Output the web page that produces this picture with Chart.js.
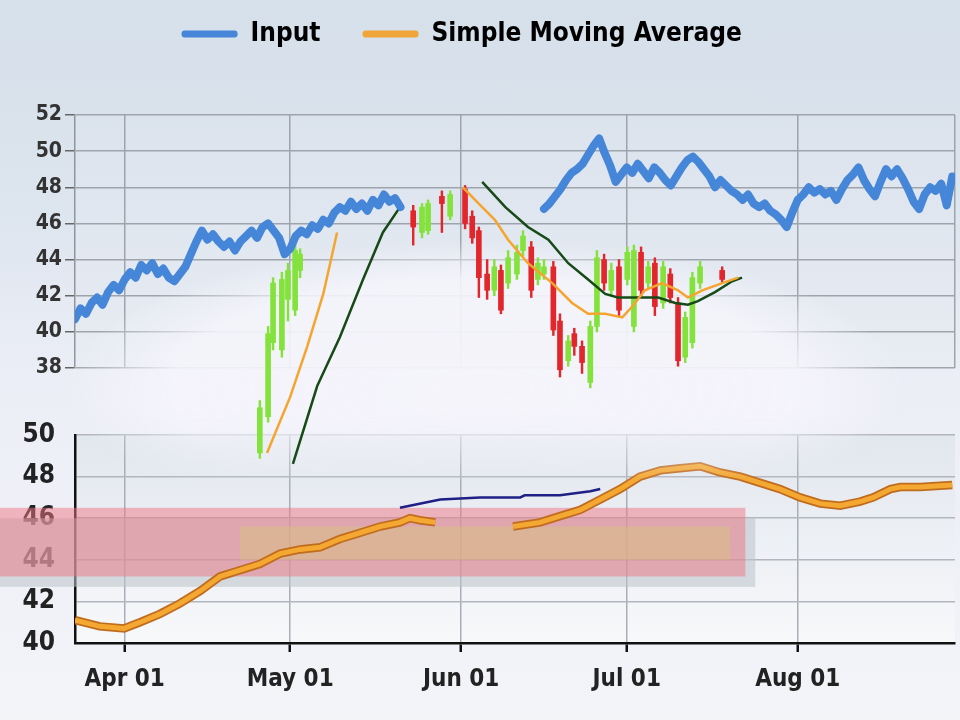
<!DOCTYPE html>
<html>
<head>
<meta charset="utf-8">
<script src="https://cdn.jsdelivr.net/npm/chart.js@4.4.1/dist/chart.umd.min.js"></script>
<style>
html, body { margin: 0; padding: 0; }
body {
    width: 960px; height: 720px; overflow: hidden; position: relative;
    background: linear-gradient(180deg, #d6e0ea 0%, #dde5ee 30%, #eceef7 52%, #eff0f7 72%, #f3f4f8 100%);
}
canvas { position: absolute; left: 0; top: 0; }
</style>
</head>
<body>
<canvas id="lower" width="960" height="720"></canvas>
<canvas id="upper" width="960" height="720"></canvas>
<script>
// x axis is day of year
const monthTicks = [91, 121, 152, 182, 213];
const monthLabels = ['Apr 01', 'May 01', 'Jun 01', 'Jul 01', 'Aug 01'];

// input series, one value per day, two runs
const inputStartA = 82;
const inputA = [
    40.7, 41.3, 41.0, 41.6, 41.9, 41.5, 42.2, 42.6, 42.3, 42.9,
    43.3, 43.0, 43.7, 43.4, 43.8, 43.2, 43.5, 43.0, 42.8, 43.2,
    43.6, 44.3, 45.0, 45.6, 45.1, 45.4, 45.0, 44.7, 45.0, 44.5,
    45.0, 45.3, 45.6, 45.2, 45.8, 46.0, 45.6, 45.2, 44.3, 44.6,
    45.3, 45.6, 45.4, 45.9, 45.7, 46.2, 46.0, 46.6, 46.9, 46.7,
    47.2, 46.8, 47.1, 46.7, 47.3, 47.0, 47.6, 47.2, 47.4, 46.9
];
const inputStartB = 167;
const inputB = [
    46.8, 47.1, 47.5, 47.9, 48.4, 48.8, 49.0, 49.3, 49.8, 50.3,
    50.7, 49.9, 49.2, 48.3, 48.7, 49.1, 48.8, 49.3, 48.9, 48.5,
    49.1, 48.8, 48.4, 48.1, 48.6, 49.1, 49.5, 49.7, 49.4, 49.0,
    48.6, 48.0, 48.4, 48.1, 47.8, 47.6, 47.3, 47.6, 47.1, 46.9,
    47.1, 46.7, 46.5, 46.2, 45.8, 46.6, 47.3, 47.6, 48.0, 47.7,
    47.9, 47.6, 47.8, 47.3, 47.9, 48.4, 48.7, 49.1, 48.4, 47.9,
    47.5, 48.3, 49.0, 48.6, 49.0, 48.5, 47.9, 47.2, 46.8, 47.6,
    48.0, 47.8, 48.2, 47.0, 48.6
];

// candles
const candleDays  = [115.5,117.0,117.9,119.5,120.6,121.9,122.8,143.3,144.9,146.0,148.5,150.0,152.7,154.0,155.2,156.7,158.0,159.2,160.5,162.1,163.2,164.7,165.9,167.0,168.7,169.9,171.4,172.5,173.9,175.4,176.6,177.9,179.2,180.6,182.1,183.3,184.6,185.9,187.1,188.6,189.9,191.3,192.6,193.9,195.3,199.3];
const candleOpen  = [33.3,35.3,39.4,39.0,41.8,41.2,43.4,46.7,45.5,45.6,47.5,46.4,47.9,46.4,45.6,43.2,42.3,43.4,42.7,43.2,44.5,44.7,42.9,43.2,43.6,40.6,38.4,39.9,39.2,37.2,40.3,44.0,42.3,43.6,42.9,40.3,44.4,42.7,43.8,41.6,43.2,41.6,38.6,39.4,42.7,43.4];
const candleClose = [35.8,39.9,42.7,42.9,43.4,44.5,44.3,45.8,46.9,47.1,47.1,47.6,46.0,45.2,43.0,42.3,43.6,41.2,44.1,44.4,45.3,42.3,43.8,43.6,40.1,37.9,39.5,39.2,38.3,40.3,44.1,42.7,43.4,41.2,44.4,44.5,42.3,43.6,41.4,43.6,41.9,38.4,40.8,43.0,43.6,42.9];
const candleHigh  = [36.2,40.3,43.0,43.3,43.8,44.9,44.6,47.0,47.1,47.3,47.8,47.8,48.1,46.7,45.8,44.0,44.0,43.7,44.5,44.8,45.6,45.0,44.1,44.0,43.9,41.0,39.8,40.2,39.5,40.6,44.5,44.3,43.8,44.0,44.7,44.8,44.7,43.9,44.1,43.9,43.5,41.9,41.1,43.3,43.9,43.6];
const candleLow   = [33.0,35.0,39.0,38.6,40.6,40.9,43.0,44.8,45.2,45.4,45.5,46.2,45.7,44.9,41.9,41.8,42.0,41.0,42.4,42.9,44.2,41.9,42.6,42.9,39.8,37.5,38.1,38.7,37.7,36.9,40.0,42.3,42.0,40.9,42.6,40.0,42.0,42.4,40.9,41.3,41.6,38.1,38.3,39.1,42.4,42.7];

// moving averages on the upper panel
const smaDays   = [116.8, 121.0, 124.1, 127.0, 129.5, 140, 152.3, 155.8, 158.1, 160.5, 164.1, 168.5, 172.1, 175.0, 178.1, 181.2, 183.0, 185.3, 188.4, 191.3, 193.1, 195.7, 199.3, 202.2];
const smaValues = [33.3, 36.4, 39.2, 42.1, 45.5, null, 48.0, 46.9, 46.2, 45.1, 43.8, 42.7, 41.6, 41.0, 41.0, 40.8, 41.4, 42.3, 42.7, 42.3, 41.9, 42.3, 42.7, 43.0];
const slowDays   = [121.5, 125.9, 130.0, 134.2, 137.8, 140.9, 148, 155.8, 160.0, 164.1, 167.8, 171.4, 175.0, 178.1, 180.4, 184.1, 187.7, 190.8, 193.1, 194.9, 198.0, 201.1, 202.9];
const slowValues = [32.7, 37.0, 39.7, 42.9, 45.5, 46.9, null, 48.3, 46.9, 45.8, 45.1, 43.8, 42.9, 42.1, 41.9, 41.9, 41.9, 41.6, 41.5, 41.7, 42.2, 42.8, 43.0];

// lower panel
const lowerDays   = [82, 86.5, 90.9, 93.8, 97.4, 101.0, 104.7, 108.3, 111.9, 115.5, 119.2, 122.8, 126.4, 130.0, 133.7, 137.3, 140.9, 142.7, 144.5, 147.3, 154, 161.4, 166.3, 169.9, 173.6, 177.2, 180.8, 184.4, 188.1, 191.7, 195.3, 198.9, 202.6, 206.2, 209.8, 213.4, 217.1, 220.7, 224.3, 226.7, 229.8, 231.6, 235.2, 241.0];
const lowerValues = [41.1, 40.8, 40.7, 41.0, 41.4, 41.9, 42.5, 43.2, 43.5, 43.8, 44.3, 44.5, 44.6, 45.0, 45.3, 45.6, 45.8, 46.0, 45.9, 45.8, null, 45.6, 45.8, 46.1, 46.4, 46.9, 47.4, 48.0, 48.3, 48.4, 48.5, 48.2, 48.0, 47.7, 47.4, 47.0, 46.7, 46.6, 46.8, 47.0, 47.4, 47.5, 47.5, 47.6];
const navyDays   = [140.9, 148.2, 155.4, 162.7, 163.5, 169.9, 175.4, 177.2];
const navyValues = [46.5, 46.9, 47.0, 47.0, 47.1, 47.1, 47.3, 47.4];

// shaded bands on the lower panel (day from/to, value low/high)
const bandFrom = [68.4, 68.4, 111.9];
const bandTo   = [205.3, 203.5, 200.7];
const bandLow  = [42.7, 43.2, 44.0];
const bandHigh = [46.0, 46.5, 45.6];
const bandColors = ['rgba(188,194,202,0.55)', 'rgba(238,118,130,0.5)', 'rgba(214,196,120,0.45)'];

const GREEN = '#84e23c';
const RED = '#e1262c';
const FONT = "'DejaVu Sans Condensed', 'DejaVu Sans', sans-serif";

function pts(days, vals) {
    return days.map((d, i) => ({x: d, y: vals[i]}));
}
function run(start, vals) {
    return vals.map((v, i) => ({x: start + i, y: v}));
}

const inputPts = run(inputStartA, inputA).concat([{x: 150, y: null}], run(inputStartB, inputB));
const bodyPts = candleDays.map((d, i) => ({x: d, y: [candleOpen[i], candleClose[i]]}));
const wickPts = candleDays.map((d, i) => ({x: d, y: [candleLow[i], candleHigh[i]]}));
const candleColors = candleOpen.map((o, i) => candleClose[i] >= o ? GREEN : RED);

const areaFill = {
    id: 'areaFill',
    beforeDraw(chart, args, opts) {
        const {ctx, chartArea: a} = chart;
        const g = ctx.createLinearGradient(0, a.top, 0, a.bottom);
        g.addColorStop(0, opts.top);
        g.addColorStop(1, opts.bottom);
        ctx.save();
        ctx.fillStyle = g;
        ctx.fillRect(a.left, a.top, a.width, a.height);
        ctx.restore();
    }
};

// washed out patch in the lower middle of the upper panel
const haze = {
    id: 'haze',
    beforeDatasetsDraw(chart) {
        const {ctx, chartArea: a} = chart;
        const cx = a.left + a.width * 0.466;
        const cy = a.bottom + 22;
        ctx.save();
        ctx.translate(cx, cy);
        ctx.scale(1, 150 / 420);
        const g = ctx.createRadialGradient(0, 0, 0, 0, 0, 420);
        g.addColorStop(0, 'rgba(245,244,251,0.97)');
        g.addColorStop(0.75, 'rgba(245,244,251,0.9)');
        g.addColorStop(1, 'rgba(245,244,251,0)');
        ctx.fillStyle = g;
        ctx.beginPath();
        ctx.arc(0, 0, 420, 0, Math.PI * 2);
        ctx.fill();
        ctx.restore();
        // fade it out downwards so it only lightly touches the lower panel
        ctx.save();
        ctx.globalCompositeOperation = 'destination-out';
        const f = ctx.createLinearGradient(0, a.bottom + 45, 0, a.bottom + 115);
        f.addColorStop(0, 'rgba(0,0,0,0)');
        f.addColorStop(1, 'rgba(0,0,0,1)');
        ctx.fillStyle = f;
        ctx.fillRect(0, a.bottom + 45, chart.width, chart.height - a.bottom - 45);
        ctx.restore();
    }
};

const bands = {
    id: 'bands',
    beforeDatasetsDraw(chart) {
        const {ctx, scales: {x, y}} = chart;
        ctx.save();
        for (let i = 0; i < bandFrom.length; i++) {
            const l = x.getPixelForValue(bandFrom[i]);
            const r = x.getPixelForValue(bandTo[i]);
            const t = y.getPixelForValue(bandHigh[i]);
            const b = y.getPixelForValue(bandLow[i]);
            ctx.fillStyle = bandColors[i];
            ctx.fillRect(l, t, r - l, b - t);
        }
        ctx.restore();
    }
};

const monthGrid = scale => {
    scale.ticks = monthTicks.concat([scale.max]).map(v => ({value: v}));
};

new Chart(document.getElementById('lower'), {
    type: 'line',
    data: {
        datasets: [
            {data: pts(lowerDays, lowerValues), borderColor: '#f4a731', borderWidth: 5, pointRadius: 0, order: 1},
            {data: pts(lowerDays, lowerValues), borderColor: '#c06c1f', borderWidth: 8.5, pointRadius: 0, order: 2},
            {data: pts(navyDays, navyValues), borderColor: '#1f1f86', borderWidth: 2.5, pointRadius: 0, order: 3}
        ]
    },
    options: {
        responsive: false,
        animation: false,
        events: [],
        layout: {padding: {top: 435, left: 0, right: 5, bottom: 0}},
        plugins: {
            legend: {display: false},
            tooltip: {enabled: false},
            areaFill: {top: '#e2e7ee', bottom: '#f7f8fa'}
        },
        scales: {
            x: {
                type: 'linear', min: 82, max: 241.5, offset: false,
                afterBuildTicks: scale => { scale.ticks = monthTicks.map(v => ({value: v})); },
                afterFit: scale => { scale.height = 77; },
                ticks: {
                    autoSkip: false, maxRotation: 0, padding: 13, color: '#222',
                    font: {family: FONT, size: 24, weight: 'bold'},
                    callback: v => monthLabels[monthTicks.indexOf(v)] || ''
                },
                grid: {color: '#a9aeb6', lineWidth: 1.5, tickLength: 9, tickColor: '#111', tickWidth: 2.5, offset: false},
                border: {color: '#111', width: 2.5}
            },
            y: {
                min: 40, max: 50,
                afterFit: scale => { scale.width = 75; },
                ticks: {stepSize: 2, padding: 20, color: '#222', font: {family: FONT, size: 26, weight: 'bold'}},
                grid: {color: '#b2b7bf', lineWidth: 1.5, drawTicks: false},
                border: {color: '#111', width: 2.5}
            }
        }
    },
    plugins: [areaFill, bands]
});

new Chart(document.getElementById('upper'), {
    type: 'line',
    data: {
        datasets: [
            {label: 'Input', data: inputPts, borderColor: '#4586d9', borderWidth: 8, pointRadius: 0,
             borderJoinStyle: 'round', borderCapStyle: 'round', spanGaps: false, order: 1},
            {label: 'Simple Moving Average', data: pts(smaDays, smaValues), borderColor: '#f5a42e', borderWidth: 2.5,
             pointRadius: 0, spanGaps: false, clip: false, order: 2},
            {label: 'Slow', data: pts(slowDays, slowValues), borderColor: '#174a17', borderWidth: 2.5,
             pointRadius: 0, spanGaps: false, clip: false, order: 2},
            {type: 'bar', label: 'Body', data: bodyPts, backgroundColor: candleColors, barThickness: 5,
             grouped: false, clip: false, order: 3},
            {type: 'bar', label: 'Wick', data: wickPts, backgroundColor: candleColors, barThickness: 1.8,
             grouped: false, clip: false, order: 4}
        ]
    },
    options: {
        responsive: false,
        animation: false,
        events: [],
        layout: {padding: {top: -21, left: 0, right: 5, bottom: 0}},
        plugins: {
            legend: {
                position: 'top',
                weight: 3000,
                labels: {
                    boxWidth: 56, boxHeight: 7, padding: 42, color: '#1c1c1c',
                    useBorderRadius: true, borderRadius: 3,
                    font: {family: FONT, size: 26, weight: 'bold'},
                    generateLabels: () => [
                        {text: 'Input', fillStyle: '#4586d9', strokeStyle: '#4586d9', lineWidth: 0, hidden: false, borderRadius: 3},
                        {text: 'Simple Moving Average\u2003 ', fillStyle: '#f0a53a', strokeStyle: '#f0a53a', lineWidth: 0, hidden: false, borderRadius: 3}
                    ]
                }
            },
            title: {display: true, text: '', font: {size: 10}, padding: {top: 0, bottom: 46}},
            tooltip: {enabled: false},
            areaFill: {top: '#dbe3ed', bottom: '#e8ecf3'}
        },
        scales: {
            x: {
                type: 'linear', min: 82, max: 241.5, offset: false,
                afterBuildTicks: monthGrid,
                afterFit: scale => { scale.height = 352; },
                ticks: {display: false},
                grid: {color: '#9ea4ac', lineWidth: 1.5, drawTicks: false, offset: false},
                border: {display: false}
            },
            y: {
                min: 38, max: 52,
                afterFit: scale => { scale.width = 75; },
                ticks: {stepSize: 2, padding: 3, color: '#333', font: {family: FONT, size: 21, weight: 'bold'}},
                grid: {color: '#9ea4ac', lineWidth: 1.5, tickLength: 10, tickColor: '#666'},
                border: {color: '#8f959d', width: 1.5}
            }
        }
    },
    plugins: [areaFill, haze]
});
</script>
</body>
</html>
